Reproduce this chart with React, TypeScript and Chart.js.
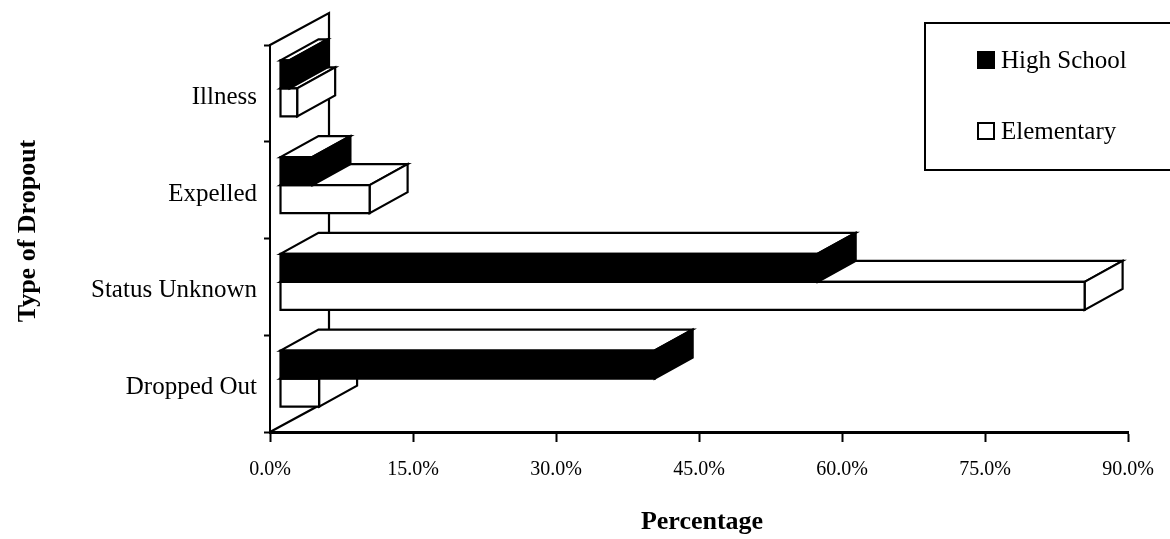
import React, { useEffect, useRef } from 'react';
import { Chart, registerables } from 'chart.js';

Chart.register(...registerables);

// ---- data ----
const categories = ['Illness', 'Expelled', 'Status Unknown', 'Dropped Out'];
const highSchool = [1.0, 3.4, 56.4, 39.3];
const elementary = [1.8, 9.4, 84.4, 4.1];
const seriesNames = ['High School', 'Elementary'];
const seriesColors = ['#000000', '#ffffff'];
const xMin = 0;
const xMax = 90;
const xStep = 15;
const xTitle = 'Percentage';
const yTitle = 'Type of Dropout';

const SERIF = "'Liberation Serif', 'Times New Roman', serif";

// 3D projection style constants
const FX = 10, FY = -5;   // bar front plane offset from the front axis plane
const DX = 38, DY = -21;  // bar depth
const WX = 59, WY = -32;  // wall depth

const threeDPlugin = {
  id: 'threeD',
  beforeDatasetsDraw(chart: any) {
    const { ctx, chartArea: a } = chart;
    ctx.save();
    ctx.strokeStyle = '#000';
    ctx.lineWidth = 2.2;
    ctx.lineJoin = 'miter';
    // left wall outline
    ctx.beginPath();
    ctx.moveTo(a.left, a.top);
    ctx.lineTo(a.left + WX, a.top + WY);
    ctx.lineTo(a.left + WX, a.bottom + WY);
    ctx.lineTo(a.left, a.bottom);
    ctx.stroke();

    const nSets = chart.data.datasets.length;
    const nCats = chart.data.labels.length;
    for (let c = nCats - 1; c >= 0; c--) {
      for (let d = nSets - 1; d >= 0; d--) {
        const meta = chart.getDatasetMeta(d);
        const el = meta.data[c];
        if (!el) continue;
        const { x, y, base, height } = el.getProps(['x', 'y', 'base', 'height'], true);
        const fill = chart.data.datasets[d].backgroundColor;
        const x0 = Math.min(base, x) + FX;
        const x1 = Math.max(base, x) + FX;
        const yT = y - height / 2 + FY;
        const yB = y + height / 2 + FY;
        // top face
        ctx.beginPath();
        ctx.moveTo(x0, yT);
        ctx.lineTo(x1, yT);
        ctx.lineTo(x1 + DX, yT + DY);
        ctx.lineTo(x0 + DX, yT + DY);
        ctx.closePath();
        ctx.fillStyle = '#fff';
        ctx.fill();
        ctx.stroke();
        // right face
        ctx.beginPath();
        ctx.moveTo(x1, yT);
        ctx.lineTo(x1 + DX, yT + DY);
        ctx.lineTo(x1 + DX, yB + DY);
        ctx.lineTo(x1, yB);
        ctx.closePath();
        ctx.fillStyle = fill;
        ctx.fill();
        ctx.stroke();
        // front face
        ctx.beginPath();
        ctx.rect(x0, yT, x1 - x0, yB - yT);
        ctx.fillStyle = fill;
        ctx.fill();
        ctx.stroke();
      }
    }
    ctx.restore();
    return false;
  },
  afterDraw(chart: any) {
    const { ctx } = chart;
    ctx.save();
    // legend box
    ctx.strokeStyle = '#000';
    ctx.lineWidth = 2;
    ctx.strokeRect(925, 23, 260, 147);
    ctx.font = `25px ${SERIF}`;
    ctx.textAlign = 'left';
    ctx.textBaseline = 'middle';
    ctx.fillStyle = '#000';
    const rows = [60, 131];
    chart.data.datasets.forEach((ds: any, i: number) => {
      const cy = rows[i];
      ctx.beginPath();
      ctx.rect(978, cy - 8, 16, 16);
      ctx.fillStyle = ds.backgroundColor;
      ctx.fill();
      ctx.lineWidth = 2;
      ctx.stroke();
      ctx.fillStyle = '#000';
      ctx.fillText(ds.label, 1001, cy + 1);
    });
    // axis titles
    ctx.font = `bold 26px ${SERIF}`;
    ctx.textAlign = 'center';
    ctx.textBaseline = 'middle';
    ctx.fillText(xTitle, 702, 522);
    ctx.translate(28, 231);
    ctx.rotate(-Math.PI / 2);
    ctx.fillText(yTitle, 0, 0);
    ctx.restore();
  },
};

export default function App() {
  const canvasRef = useRef<HTMLCanvasElement | null>(null);

  useEffect(() => {
    const canvas = canvasRef.current;
    if (!canvas) return;
    const chart = new Chart(canvas, {
      type: 'bar',
      data: {
        labels: categories,
        datasets: [
          {
            label: seriesNames[0],
            data: highSchool,
            backgroundColor: seriesColors[0],
            borderColor: '#000',
            borderWidth: 2,
          },
          {
            label: seriesNames[1],
            data: elementary,
            backgroundColor: seriesColors[1],
            borderColor: '#000',
            borderWidth: 2,
          },
        ],
      },
      options: {
        indexAxis: 'y',
        responsive: false,
        animation: false,
        events: [],
        layout: { padding: { left: 0, top: 45, right: 42, bottom: 0 } },
        datasets: {
          bar: { categoryPercentage: 0.58, barPercentage: 1.0 },
        },
        plugins: {
          legend: { display: false },
          tooltip: { enabled: false },
          title: { display: false },
        },
        scales: {
          x: {
            type: 'linear',
            position: 'bottom',
            min: xMin,
            max: xMax,
            ticks: {
              stepSize: xStep,
              color: '#000',
              font: { family: SERIF, size: 20 },
              padding: 16,
              maxRotation: 0,
              callback: (v: any) => Number(v).toFixed(1) + '%',
            },
            grid: {
              display: true,
              drawOnChartArea: false,
              drawTicks: true,
              tickLength: 10,
              tickWidth: 2,
              tickColor: '#000',
            },
            border: { display: true, color: '#000', width: 3 },
            afterFit: (scale: any) => {
              scale.height = 107;
            },
          },
          y: {
            type: 'category',
            position: 'left',
            offset: true,
            ticks: {
              color: '#000',
              font: { family: SERIF, size: 25 },
              padding: 7,
              labelOffset: 4,
            },
            grid: {
              display: true,
              offset: true,
              drawOnChartArea: false,
              drawTicks: true,
              tickLength: 6,
              tickWidth: 2,
              tickColor: '#000',
            },
            border: { display: true, color: '#000', width: 2 },
            afterFit: (scale: any) => {
              scale.width = 270;
            },
          },
        },
      },
      plugins: [threeDPlugin],
    } as any);
    return () => {
      chart.destroy();
    };
  }, []);

  return (
    <div style={{ position: 'fixed', left: 0, top: 0, width: 1170, height: 539, background: '#fff' }}>
      <canvas ref={canvasRef} width={1170} height={539} style={{ display: 'block' }} />
    </div>
  );
}
